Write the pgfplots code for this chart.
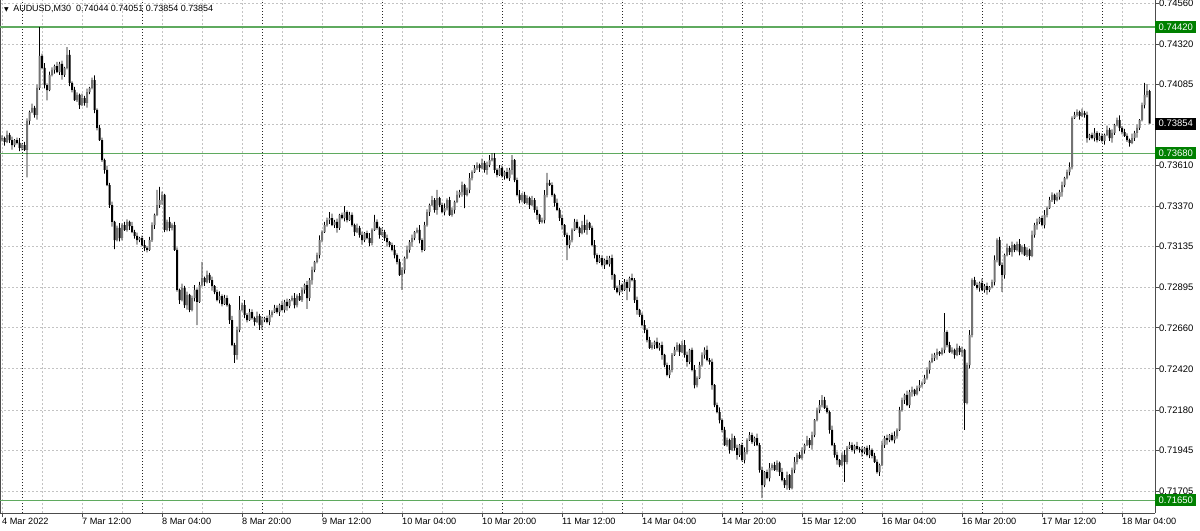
\documentclass[border=0pt]{standalone}
\usepackage{pgfplots}
\pgfplotsset{compat=1.18}
\usepackage{pgfplotstable}
\usepackage{fontspec}
\setmainfont{Liberation Sans}
\newfontfamily\dejavu{DejaVu Sans}
\definecolor{lvl}{RGB}{95,170,95}
\definecolor{lvlbox}{RGB}{0,128,0}
\definecolor{gridc}{RGB}{195,195,195}
\pgfplotstableread{
o h l c
0.73760 0.73785 0.73750 0.73770
0.73770 0.73778 0.73725 0.73747
0.73747 0.73813 0.73740 0.73788
0.73788 0.73800 0.73742 0.73758
0.73758 0.73778 0.73702 0.73729
0.73729 0.73764 0.73717 0.73758
0.73758 0.73772 0.73733 0.73741
0.73741 0.73769 0.73693 0.73712
0.73712 0.73739 0.73698 0.73729
0.73729 0.73747 0.73695 0.73700
0.73700 0.73885 0.73540 0.73870
0.73870 0.73930 0.73848 0.73922
0.73922 0.73971 0.73915 0.73946
0.73946 0.73958 0.73889 0.73905
0.73905 0.74083 0.73878 0.74063
0.74063 0.74419 0.74051 0.74250
0.74250 0.74264 0.74172 0.74180
0.74180 0.74208 0.74061 0.74080
0.74080 0.74090 0.73990 0.74050
0.74050 0.74158 0.74045 0.74140
0.74140 0.74183 0.74130 0.74168
0.74168 0.74199 0.74146 0.74191
0.74191 0.74216 0.74149 0.74156
0.74156 0.74215 0.74140 0.74203
0.74203 0.74223 0.74112 0.74139
0.74139 0.74186 0.74127 0.74180
0.74180 0.74302 0.74172 0.74256
0.74256 0.74284 0.74073 0.74092
0.74092 0.74102 0.74037 0.74051
0.74051 0.74069 0.73987 0.73992
0.73992 0.74037 0.73982 0.74022
0.74022 0.74030 0.73941 0.73963
0.73963 0.74029 0.73956 0.74004
0.74004 0.74016 0.73959 0.73975
0.73975 0.74059 0.73948 0.74039
0.74039 0.74069 0.74027 0.74063
0.74063 0.74123 0.74055 0.74109
0.74109 0.74137 0.73915 0.73934
0.73934 0.73944 0.73815 0.73829
0.73829 0.73847 0.73753 0.73758
0.73758 0.73773 0.73631 0.73641
0.73641 0.73649 0.73561 0.73583
0.73583 0.73608 0.73488 0.73495
0.73495 0.73507 0.73362 0.73378
0.73378 0.73398 0.73252 0.73279
0.73279 0.73285 0.73120 0.73173
0.73173 0.73258 0.73165 0.73244
0.73244 0.73272 0.73166 0.73185
0.73185 0.73271 0.73171 0.73261
0.73261 0.73279 0.73227 0.73232
0.73232 0.73294 0.73222 0.73279
0.73279 0.73287 0.73233 0.73255
0.73255 0.73280 0.73213 0.73220
0.73220 0.73232 0.73181 0.73197
0.73197 0.73217 0.73146 0.73173
0.73173 0.73191 0.73161 0.73185
0.73185 0.73199 0.73136 0.73144
0.73144 0.73172 0.73108 0.73127
0.73127 0.73137 0.73101 0.73115
0.73115 0.73191 0.73110 0.73173
0.73173 0.73276 0.73163 0.73261
0.73261 0.73328 0.73239 0.73320
0.73320 0.73466 0.73313 0.73378
0.73378 0.73484 0.73362 0.73407
0.73407 0.73457 0.73380 0.73437
0.73437 0.73443 0.73220 0.73232
0.73232 0.73293 0.73224 0.73279
0.73279 0.73307 0.73225 0.73244
0.73244 0.73271 0.73230 0.73261
0.73261 0.73279 0.73110 0.73115
0.73115 0.73130 0.72871 0.72881
0.72881 0.72889 0.72800 0.72822
0.72822 0.72918 0.72815 0.72893
0.72893 0.72905 0.72777 0.72793
0.72793 0.72872 0.72766 0.72852
0.72852 0.72858 0.72752 0.72764
0.72764 0.72848 0.72756 0.72834
0.72834 0.72909 0.72815 0.72881
0.72881 0.72891 0.72676 0.72811
0.72811 0.72928 0.72806 0.72910
0.72910 0.73045 0.72900 0.72951
0.72951 0.72959 0.72905 0.72927
0.72927 0.72994 0.72920 0.72969
0.72969 0.72981 0.72923 0.72939
0.72939 0.72959 0.72877 0.72904
0.72904 0.72910 0.72857 0.72869
0.72869 0.72883 0.72814 0.72822
0.72822 0.72873 0.72803 0.72845
0.72845 0.72855 0.72785 0.72799
0.72799 0.72852 0.72794 0.72834
0.72834 0.72849 0.72783 0.72793
0.72793 0.72801 0.72683 0.72705
0.72705 0.72730 0.72552 0.72559
0.72559 0.72571 0.72454 0.72501
0.72501 0.72667 0.72474 0.72647
0.72647 0.72845 0.72635 0.72764
0.72764 0.72807 0.72756 0.72793
0.72793 0.72821 0.72716 0.72735
0.72735 0.72745 0.72691 0.72705
0.72705 0.72770 0.72700 0.72752
0.72752 0.72767 0.72707 0.72717
0.72717 0.72725 0.72672 0.72694
0.72694 0.72754 0.72687 0.72729
0.72729 0.72741 0.72647 0.72676
0.72676 0.72725 0.72649 0.72705
0.72705 0.72723 0.72693 0.72717
0.72717 0.72731 0.72686 0.72694
0.72694 0.72763 0.72675 0.72735
0.72735 0.72762 0.72721 0.72752
0.72752 0.72794 0.72747 0.72776
0.72776 0.72791 0.72742 0.72752
0.72752 0.72801 0.72730 0.72793
0.72793 0.72818 0.72757 0.72764
0.72764 0.72823 0.72748 0.72811
0.72811 0.72831 0.72760 0.72787
0.72787 0.72828 0.72775 0.72822
0.72822 0.72848 0.72814 0.72834
0.72834 0.72862 0.72774 0.72793
0.72793 0.72855 0.72779 0.72845
0.72845 0.72863 0.72817 0.72822
0.72822 0.72896 0.72812 0.72881
0.72881 0.72918 0.72859 0.72910
0.72910 0.72935 0.72770 0.72834
0.72834 0.72951 0.72818 0.72939
0.72939 0.73018 0.72912 0.72998
0.72998 0.73051 0.72986 0.73045
0.73045 0.73099 0.73037 0.73085
0.73085 0.73201 0.73066 0.73173
0.73173 0.73230 0.73159 0.73220
0.73220 0.73279 0.73215 0.73261
0.73261 0.73305 0.73251 0.73290
0.73290 0.73337 0.73268 0.73302
0.73302 0.73327 0.73254 0.73261
0.73261 0.73291 0.73245 0.73279
0.73279 0.73299 0.73217 0.73244
0.73244 0.73326 0.73232 0.73320
0.73320 0.73334 0.73294 0.73302
0.73302 0.73372 0.73283 0.73337
0.73337 0.73347 0.73276 0.73290
0.73290 0.73338 0.73285 0.73320
0.73320 0.73335 0.73251 0.73261
0.73261 0.73269 0.73198 0.73220
0.73220 0.73269 0.73213 0.73244
0.73244 0.73256 0.73187 0.73203
0.73203 0.73223 0.73146 0.73173
0.73173 0.73220 0.73161 0.73214
0.73214 0.73228 0.73177 0.73185
0.73185 0.73213 0.73137 0.73156
0.73156 0.73242 0.73142 0.73232
0.73232 0.73320 0.73227 0.73279
0.73279 0.73294 0.73234 0.73244
0.73244 0.73252 0.73181 0.73203
0.73203 0.73245 0.73196 0.73220
0.73220 0.73232 0.73169 0.73185
0.73185 0.73205 0.73134 0.73161
0.73161 0.73167 0.73132 0.73144
0.73144 0.73158 0.73107 0.73115
0.73115 0.73143 0.73066 0.73085
0.73085 0.73095 0.73031 0.73045
0.73045 0.73063 0.72964 0.72969
0.72969 0.73013 0.72881 0.72998
0.72998 0.73076 0.72976 0.73068
0.73068 0.73140 0.73061 0.73115
0.73115 0.73173 0.73099 0.73161
0.73161 0.73205 0.73134 0.73185
0.73185 0.73226 0.73173 0.73220
0.73220 0.73246 0.73212 0.73232
0.73232 0.73260 0.73154 0.73173
0.73173 0.73183 0.73101 0.73115
0.73115 0.73279 0.73110 0.73261
0.73261 0.73352 0.73251 0.73337
0.73337 0.73386 0.73315 0.73378
0.73378 0.73432 0.73371 0.73407
0.73407 0.73419 0.73333 0.73349
0.73349 0.73466 0.73322 0.73419
0.73419 0.73425 0.73366 0.73378
0.73378 0.73392 0.73329 0.73337
0.73337 0.73388 0.73318 0.73360
0.73360 0.73417 0.73346 0.73407
0.73407 0.73425 0.73315 0.73320
0.73320 0.73364 0.73310 0.73349
0.73349 0.73404 0.73327 0.73396
0.73396 0.73462 0.73389 0.73437
0.73437 0.73466 0.73421 0.73454
0.73454 0.73515 0.73427 0.73495
0.73495 0.73501 0.73360 0.73437
0.73437 0.73480 0.73429 0.73466
0.73466 0.73564 0.73447 0.73536
0.73536 0.73581 0.73522 0.73571
0.73571 0.73612 0.73566 0.73594
0.73594 0.73627 0.73584 0.73612
0.73612 0.73620 0.73572 0.73594
0.73594 0.73649 0.73587 0.73624
0.73624 0.73636 0.73567 0.73583
0.73583 0.73632 0.73556 0.73612
0.73612 0.73670 0.73600 0.73641
0.73641 0.73682 0.73633 0.73653
0.73653 0.73681 0.73564 0.73583
0.73583 0.73593 0.73540 0.73554
0.73554 0.73612 0.73549 0.73594
0.73594 0.73609 0.73538 0.73548
0.73548 0.73579 0.73526 0.73571
0.73571 0.73596 0.73529 0.73536
0.73536 0.73595 0.73520 0.73583
0.73583 0.73670 0.73556 0.73641
0.73641 0.73647 0.73512 0.73524
0.73524 0.73538 0.73429 0.73437
0.73437 0.73465 0.73388 0.73407
0.73407 0.73447 0.73393 0.73437
0.73437 0.73455 0.73385 0.73390
0.73390 0.73434 0.73380 0.73419
0.73419 0.73427 0.73356 0.73378
0.73378 0.73432 0.73371 0.73407
0.73407 0.73419 0.73333 0.73349
0.73349 0.73369 0.73293 0.73320
0.73320 0.73326 0.73267 0.73279
0.73279 0.73304 0.73271 0.73290
0.73290 0.73465 0.73271 0.73437
0.73437 0.73566 0.73423 0.73507
0.73507 0.73525 0.73490 0.73495
0.73495 0.73510 0.73427 0.73437
0.73437 0.73445 0.73368 0.73390
0.73390 0.73415 0.73342 0.73349
0.73349 0.73361 0.73286 0.73302
0.73302 0.73322 0.73234 0.73261
0.73261 0.73267 0.73191 0.73203
0.73203 0.73217 0.73056 0.73144
0.73144 0.73201 0.73125 0.73173
0.73173 0.73242 0.73159 0.73232
0.73232 0.73297 0.73227 0.73279
0.73279 0.73294 0.73234 0.73244
0.73244 0.73252 0.73192 0.73214
0.73214 0.73286 0.73207 0.73261
0.73261 0.73320 0.73216 0.73232
0.73232 0.73293 0.73205 0.73273
0.73273 0.73279 0.73232 0.73244
0.73244 0.73258 0.73136 0.73144
0.73144 0.73172 0.73066 0.73085
0.73085 0.73095 0.73031 0.73045
0.73045 0.73086 0.73040 0.73068
0.73068 0.73083 0.73017 0.73027
0.73027 0.73064 0.73005 0.73056
0.73056 0.73081 0.73026 0.73033
0.73033 0.73080 0.73017 0.73068
0.73068 0.73088 0.72942 0.72969
0.72969 0.72975 0.72881 0.72893
0.72893 0.72907 0.72861 0.72869
0.72869 0.72938 0.72850 0.72910
0.72910 0.72920 0.72867 0.72881
0.72881 0.72945 0.72876 0.72927
0.72927 0.72942 0.72822 0.72893
0.72893 0.72959 0.72871 0.72951
0.72951 0.72976 0.72932 0.72939
0.72939 0.72951 0.72806 0.72822
0.72822 0.72842 0.72737 0.72764
0.72764 0.72770 0.72723 0.72735
0.72735 0.72749 0.72668 0.72676
0.72676 0.72704 0.72628 0.72647
0.72647 0.72657 0.72574 0.72588
0.72588 0.72606 0.72537 0.72542
0.72542 0.72574 0.72532 0.72559
0.72559 0.72585 0.72537 0.72577
0.72577 0.72602 0.72535 0.72542
0.72542 0.72571 0.72526 0.72559
0.72559 0.72579 0.72474 0.72501
0.72501 0.72507 0.72430 0.72442
0.72442 0.72456 0.72376 0.72384
0.72384 0.72441 0.72365 0.72413
0.72413 0.72511 0.72399 0.72501
0.72501 0.72548 0.72496 0.72530
0.72530 0.72574 0.72520 0.72559
0.72559 0.72567 0.72496 0.72518
0.72518 0.72584 0.72511 0.72559
0.72559 0.72588 0.72485 0.72501
0.72501 0.72521 0.72433 0.72460
0.72460 0.72536 0.72448 0.72530
0.72530 0.72544 0.72405 0.72413
0.72413 0.72441 0.72306 0.72325
0.72325 0.72376 0.72311 0.72366
0.72366 0.72460 0.72361 0.72442
0.72442 0.72516 0.72432 0.72501
0.72501 0.72545 0.72479 0.72530
0.72530 0.72555 0.72464 0.72471
0.72471 0.72483 0.72444 0.72460
0.72460 0.72480 0.72298 0.72325
0.72325 0.72331 0.72196 0.72208
0.72208 0.72222 0.72159 0.72167
0.72167 0.72195 0.72101 0.72120
0.72120 0.72130 0.72048 0.72062
0.72062 0.72080 0.71969 0.71974
0.71974 0.72018 0.71964 0.72003
0.72003 0.72011 0.71923 0.71945
0.71945 0.72040 0.71938 0.72015
0.72015 0.72027 0.71941 0.71957
0.71957 0.71977 0.71889 0.71916
0.71916 0.71980 0.71904 0.71974
0.71974 0.71988 0.71878 0.71886
0.71886 0.71961 0.71867 0.71933
0.71933 0.72013 0.71919 0.72003
0.72003 0.72050 0.71998 0.72032
0.72032 0.72047 0.71981 0.71991
0.71991 0.72023 0.71969 0.72015
0.72015 0.72040 0.71967 0.71974
0.71974 0.71986 0.71812 0.71828
0.71828 0.71848 0.71664 0.71740
0.71740 0.71822 0.71728 0.71816
0.71816 0.71830 0.71773 0.71781
0.71781 0.71868 0.71762 0.71840
0.71840 0.71867 0.71826 0.71857
0.71857 0.71875 0.71823 0.71828
0.71828 0.71884 0.71818 0.71869
0.71869 0.71877 0.71794 0.71816
0.71816 0.71841 0.71762 0.71769
0.71769 0.71781 0.71724 0.71740
0.71740 0.71818 0.71713 0.71798
0.71798 0.71804 0.71711 0.71722
0.71722 0.71842 0.71714 0.71828
0.71828 0.71903 0.71809 0.71875
0.71875 0.71926 0.71861 0.71916
0.71916 0.71934 0.71893 0.71898
0.71898 0.71960 0.71888 0.71945
0.71945 0.71982 0.71923 0.71974
0.71974 0.72028 0.71967 0.72003
0.72003 0.72015 0.71958 0.71974
0.71974 0.72052 0.71947 0.72032
0.72032 0.72126 0.72020 0.72120
0.72120 0.72193 0.72112 0.72179
0.72179 0.72236 0.72160 0.72208
0.72208 0.72266 0.72194 0.72237
0.72237 0.72255 0.72186 0.72191
0.72191 0.72206 0.72157 0.72167
0.72167 0.72175 0.72040 0.72062
0.72062 0.72087 0.71967 0.71974
0.71974 0.71986 0.71900 0.71916
0.71916 0.71936 0.71859 0.71886
0.71886 0.71892 0.71845 0.71857
0.71857 0.71930 0.71849 0.71916
0.71916 0.71944 0.71758 0.71875
0.71875 0.71967 0.71861 0.71957
0.71957 0.71992 0.71952 0.71974
0.71974 0.71989 0.71935 0.71945
0.71945 0.71976 0.71923 0.71968
0.71968 0.71993 0.71944 0.71951
0.71951 0.71963 0.71929 0.71945
0.71945 0.71965 0.71906 0.71933
0.71933 0.71963 0.71921 0.71957
0.71957 0.71971 0.71908 0.71916
0.71916 0.71973 0.71897 0.71945
0.71945 0.71955 0.71896 0.71910
0.71910 0.71928 0.71870 0.71875
0.71875 0.71890 0.71806 0.71816
0.71816 0.71865 0.71794 0.71857
0.71857 0.71999 0.71850 0.71974
0.71974 0.72027 0.71958 0.72015
0.72015 0.72035 0.71976 0.72003
0.72003 0.72038 0.71991 0.72032
0.72032 0.72046 0.71995 0.72003
0.72003 0.72054 0.71984 0.72026
0.72026 0.72072 0.72012 0.72062
0.72062 0.72197 0.72057 0.72179
0.72179 0.72252 0.72169 0.72237
0.72237 0.72275 0.72215 0.72267
0.72267 0.72292 0.72201 0.72208
0.72208 0.72296 0.72192 0.72284
0.72284 0.72316 0.72257 0.72296
0.72296 0.72302 0.72260 0.72272
0.72272 0.72322 0.72264 0.72308
0.72308 0.72353 0.72289 0.72325
0.72325 0.72347 0.72311 0.72337
0.72337 0.72384 0.72332 0.72366
0.72366 0.72428 0.72356 0.72413
0.72413 0.72468 0.72391 0.72460
0.72460 0.72508 0.72453 0.72483
0.72483 0.72513 0.72467 0.72501
0.72501 0.72538 0.72474 0.72518
0.72518 0.72524 0.72495 0.72507
0.72507 0.72544 0.72499 0.72530
0.72530 0.72746 0.72511 0.72635
0.72635 0.72645 0.72545 0.72559
0.72559 0.72577 0.72513 0.72518
0.72518 0.72545 0.72508 0.72530
0.72530 0.72538 0.72479 0.72501
0.72501 0.72567 0.72494 0.72542
0.72542 0.72554 0.72502 0.72518
0.72518 0.72550 0.72491 0.72530
0.72530 0.72536 0.72062 0.72220
0.72220 0.72456 0.72212 0.72442
0.72442 0.72646 0.72423 0.72618
0.72618 0.72949 0.72604 0.72939
0.72939 0.72957 0.72905 0.72910
0.72910 0.72925 0.72883 0.72893
0.72893 0.72930 0.72871 0.72922
0.72922 0.72947 0.72874 0.72881
0.72881 0.72916 0.72865 0.72904
0.72904 0.72924 0.72854 0.72881
0.72881 0.72904 0.72869 0.72898
0.72898 0.72941 0.72890 0.72927
0.72927 0.73084 0.72908 0.73056
0.73056 0.73183 0.73042 0.73173
0.73173 0.73191 0.73022 0.73027
0.73027 0.73042 0.72870 0.72969
0.72969 0.73093 0.72947 0.73085
0.73085 0.73152 0.73078 0.73127
0.73127 0.73139 0.73087 0.73103
0.73103 0.73164 0.73076 0.73144
0.73144 0.73150 0.73103 0.73115
0.73115 0.73164 0.73107 0.73150
0.73150 0.73178 0.73084 0.73103
0.73103 0.73142 0.73089 0.73132
0.73132 0.73150 0.73080 0.73085
0.73085 0.73130 0.73075 0.73115
0.73115 0.73123 0.73056 0.73080
0.73080 0.73228 0.73073 0.73203
0.73203 0.73273 0.73187 0.73261
0.73261 0.73299 0.73234 0.73279
0.73279 0.73308 0.73267 0.73302
0.73302 0.73316 0.73253 0.73261
0.73261 0.73348 0.73242 0.73320
0.73320 0.73370 0.73306 0.73360
0.73360 0.73425 0.73355 0.73407
0.73407 0.73452 0.73397 0.73437
0.73437 0.73445 0.73385 0.73407
0.73407 0.73450 0.73400 0.73425
0.73425 0.73466 0.73409 0.73454
0.73454 0.73515 0.73427 0.73495
0.73495 0.73542 0.73483 0.73536
0.73536 0.73585 0.73528 0.73571
0.73571 0.73628 0.73552 0.73600
0.73600 0.73897 0.73586 0.73887
0.73887 0.73923 0.73882 0.73905
0.73905 0.73937 0.73895 0.73922
0.73922 0.73930 0.73877 0.73899
0.73899 0.73942 0.73892 0.73917
0.73917 0.73929 0.73889 0.73905
0.73905 0.73925 0.73743 0.73770
0.73770 0.73794 0.73758 0.73788
0.73788 0.73802 0.73762 0.73770
0.73770 0.73828 0.73751 0.73800
0.73800 0.73810 0.73744 0.73758
0.73758 0.73800 0.73753 0.73782
0.73782 0.73797 0.73743 0.73753
0.73753 0.73796 0.73731 0.73788
0.73788 0.73842 0.73781 0.73817
0.73817 0.73829 0.73754 0.73770
0.73770 0.73820 0.73743 0.73800
0.73800 0.73852 0.73788 0.73846
0.73846 0.73889 0.73838 0.73875
0.73875 0.73903 0.73810 0.73829
0.73829 0.73839 0.73791 0.73805
0.73805 0.73823 0.73777 0.73782
0.73782 0.73797 0.73748 0.73758
0.73758 0.73766 0.73719 0.73741
0.73741 0.73795 0.73734 0.73770
0.73770 0.73812 0.73754 0.73800
0.73800 0.73849 0.73773 0.73829
0.73829 0.73881 0.73817 0.73875
0.73875 0.73977 0.73867 0.73963
0.73963 0.74092 0.73944 0.74022
0.74022 0.74085 0.74008 0.74044
0.74044 0.74051 0.73854 0.73854
}\candles
\pgfplotsset{
  chartbox/.style={scale only axis, width=1155bp, height=513bp,
    xmin=-0.8, xmax=461.2, ymin=0.715763, ymax=0.745774},
}
\begin{document}
\begin{tikzpicture}
% ---------- background axis: grid, ticks, levels ----------
\begin{axis}[
  chartbox,
  axis x line*=bottom, axis y line*=right,
  axis line style={black!70, line width=0.8bp},
  xtick={0,32,...,448},
  xticklabels={4 Mar 2022,7 Mar 12:00,8 Mar 04:00,8 Mar 20:00,9 Mar 12:00,10 Mar 04:00,10 Mar 20:00,11 Mar 12:00,14 Mar 04:00,14 Mar 20:00,15 Mar 12:00,16 Mar 04:00,16 Mar 20:00,17 Mar 12:00,18 Mar 04:00},
  minor xtick={16,48,...,460},
  ytick={0.74560,0.74320,0.74085,0.73850,0.73610,0.73370,0.73135,0.72895,0.72660,0.72420,0.72180,0.71945,0.71705},
  yticklabels={0.74560,0.74320,0.74085,,0.73610,0.73370,0.73135,0.72895,0.72660,0.72420,0.72180,0.71945,0.71705},
  grid=both,
  major grid style={gridc, dash pattern=on 2bp off 2bp, line width=0.6bp},
  minor grid style={gridc, dash pattern=on 2bp off 2bp, line width=0.6bp},
  tick align=outside,
  major tick length=4bp, minor tick length=0pt,
  tick style={black!70, line width=0.6bp},
  xticklabel style={anchor=north west, inner sep=0pt, yshift=-1bp, font=\fontsize{9.2}{10}\selectfont},
  yticklabel style={anchor=west, inner sep=0pt, xshift=0bp, font=\fontsize{9.5}{10}\selectfont},
  extra x ticks={8,56,...,440},
  extra x tick labels={},
  extra x tick style={major tick length=0pt, grid=major, major grid style={black!85, dash pattern=on 1bp off 2bp, line width=0.6bp}},
  clip=false,
]
\draw[black!70, line width=0.8bp] (rel axis cs:0,0) -- (rel axis cs:0,1);
\addplot[forget plot, lvl, line width=1.3bp] coordinates {(-0.8,0.74420) (461.2,0.74420)};
\addplot[forget plot, lvl, line width=1.3bp] coordinates {(-0.8,0.73680) (461.2,0.73680)};
\addplot[forget plot, lvl, line width=1.3bp] coordinates {(-0.8,0.71650) (461.2,0.71650)};
\node[anchor=west, fill=lvlbox, text=white, inner xsep=3.5bp, inner ysep=0bp, minimum height=12bp, font=\fontsize{9.5}{10}\selectfont] at (axis cs:461.2,0.74420) {0.74420};
\node[anchor=west, fill=lvlbox, text=white, inner xsep=3.5bp, inner ysep=0bp, minimum height=12bp, font=\fontsize{9.5}{10}\selectfont] at (axis cs:461.2,0.73680) {0.73680};
\node[anchor=west, fill=lvlbox, text=white, inner xsep=3.5bp, inner ysep=0bp, minimum height=12bp, font=\fontsize{9.5}{10}\selectfont] at (axis cs:461.2,0.71650) {0.71650};
\node[anchor=west, fill=black, text=white, inner xsep=3.5bp, inner ysep=0bp, minimum height=12bp, font=\fontsize{9.5}{10}\selectfont] at (axis cs:461.2,0.73854) {0.73854};
\node[anchor=west, inner sep=0pt, font=\fontsize{9}{10}\selectfont] at ([xshift=4bp, yshift=-8.5bp]rel axis cs:0,1) {{\dejavu\fontsize{6}{6}\selectfont ▼}\hspace{4.5bp}AUDUSD,M30\hspace{5bp}0.74044 0.74051 0.73854 0.73854};
\end{axis}
% ---------- candle axis: stacked bars (low base, lower wick, body, upper wick) ----------
\begin{axis}[
  chartbox, hide axis, ybar stacked,
]
\addplot[forget plot, draw=none, fill=none, bar width=2bp]
  table[x expr=\coordindex, y=l]{\candles};
\addplot[forget plot, draw=none, fill=black, bar width=0.8bp]
  table[x expr=\coordindex, y expr={min(\thisrow{o},\thisrow{c})-\thisrow{l}}]{\candles};
\addplot[forget plot, draw=none, fill=black!55, bar width=2bp]
  table[x expr=\coordindex, y expr={max(\thisrow{c}-\thisrow{o},0)}]{\candles};
\addplot[forget plot, draw=none, fill=black, bar width=2bp]
  table[x expr=\coordindex, y expr={max(\thisrow{o}-\thisrow{c},0)}]{\candles};
\addplot[forget plot, draw=none, fill=black, bar width=0.8bp]
  table[x expr=\coordindex, y expr={\thisrow{h}-max(\thisrow{o},\thisrow{c})}]{\candles};
\end{axis}
\pgfresetboundingbox
\path ([yshift=-17bp]current axis.south west) rectangle ([xshift=45bp]current axis.north east);
\end{tikzpicture}
\end{document}
